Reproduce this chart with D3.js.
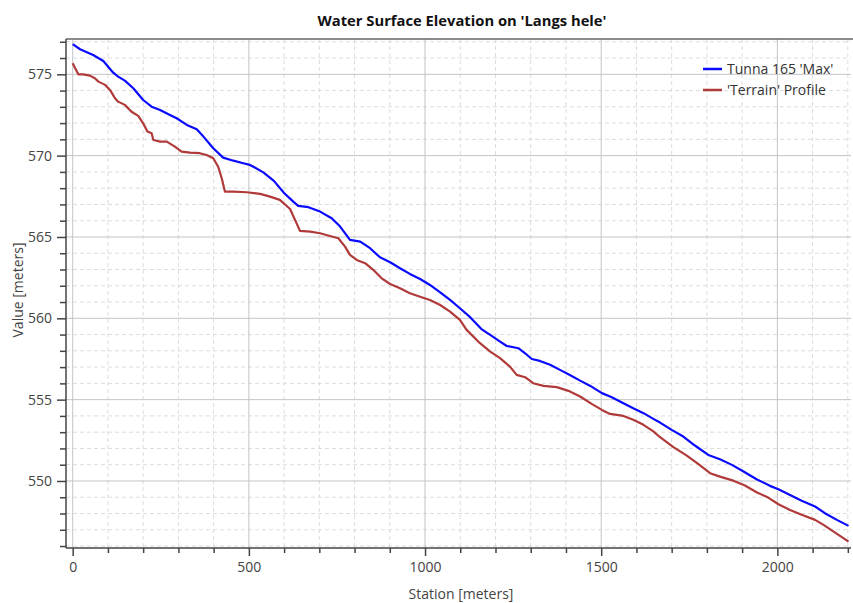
<!DOCTYPE html>
<html>
<head>
<meta charset="utf-8">
<script src="https://cdn.jsdelivr.net/npm/d3@7/dist/d3.min.js"></script>
<style>
  html, body { margin: 0; padding: 0; background: #fff; }
  svg { display: block; font-family: "Open Sans", "Noto Sans", sans-serif; }
</style>
</head>
<body>
<svg id="chart" width="853" height="603"></svg>
<script>
// ---------- Data ----------
const chartTitle = "Water Surface Elevation on 'Langs hele'";
const xAxisTitle = "Station [meters]";
const yAxisTitle = "Value [meters]";
const seriesNames = ["Tunna 165 'Max'", "'Terrain' Profile"];

const wsStations = [0,21,58,87,115,129,148,172,200,224,248,276,295,324,352,371,399,427,456,484,503,513,541,571,600,626,640,669,702,735,759,787,816,844,872,901,929,957,986,1014,1043,1071,1099,1128,1160,1185,1213,1232,1265,1284,1303,1326,1355,1383,1411,1440,1468,1502,1530,1563,1591,1620,1648,1667,1700,1733,1766,1804,1837,1871,1904,1941,1979,2003,2036,2069,2107,2135,2169,2202];
const wsValues = [576.85,576.54,576.19,575.82,575.10,574.86,574.61,574.14,573.42,573.01,572.81,572.50,572.30,571.89,571.62,571.17,570.45,569.88,569.69,569.53,569.43,569.32,568.97,568.45,567.70,567.17,566.91,566.83,566.56,566.15,565.64,564.82,564.71,564.31,563.75,563.45,563.08,562.73,562.42,562.05,561.60,561.13,560.62,560.07,559.34,558.98,558.57,558.30,558.16,557.85,557.50,557.38,557.14,556.83,556.52,556.17,555.86,555.40,555.15,554.78,554.47,554.17,553.82,553.59,553.14,552.73,552.18,551.60,551.34,550.99,550.58,550.11,549.70,549.49,549.14,548.78,548.43,548.02,547.61,547.24];

const terrainStations = [0,7,16,30,49,63,73,92,106,120,129,148,167,186,200,212,224,229,248,267,290,309,333,361,380,399,413,423,432,456,494,532,560,588,617,631,645,674,702,730,754,773,787,806,830,853,877,901,929,957,986,1014,1043,1071,1099,1118,1156,1185,1213,1241,1260,1284,1307,1336,1374,1407,1440,1473,1502,1525,1563,1591,1620,1648,1667,1705,1743,1776,1809,1837,1875,1908,1941,1974,2003,2036,2069,2107,2131,2164,2202];
const terrainValues = [575.68,575.37,575.00,575.00,574.92,574.76,574.55,574.35,574.04,573.53,573.32,573.12,572.70,572.44,571.99,571.48,571.38,570.96,570.86,570.86,570.55,570.25,570.18,570.15,570.04,569.84,569.32,568.61,567.79,567.79,567.75,567.65,567.48,567.28,566.72,566.05,565.38,565.33,565.23,565.06,564.92,564.41,563.90,563.59,563.39,562.98,562.46,562.11,561.85,561.54,561.33,561.13,560.82,560.41,559.90,559.29,558.47,557.95,557.55,557.03,556.52,556.38,556.01,555.85,555.77,555.54,555.19,554.74,554.37,554.12,554.00,553.76,553.45,553.05,552.69,552.08,551.56,551.03,550.48,550.27,550.02,549.72,549.31,548.98,548.57,548.22,547.92,547.61,547.30,546.83,546.27];

const xMajorTicks = [0, 500, 1000, 1500, 2000];
const xMinorTicks = [100,200,300,400,600,700,800,900,1100,1200,1300,1400,1600,1700,1800,1900,2100,2200];
const yMajorTicks = [550, 555, 560, 565, 570, 575];
const yMinorTicks = [546,547,548,549,551,552,553,554,556,557,558,559,561,562,563,564,566,567,568,569,571,572,573,574,576,577];

// ---------- Layout ----------
const svg = d3.select("#chart");
const L = 66, R = 851, T = 39, B = 548;
const x = d3.scaleLinear().domain([-19, 2209]).range([L, R]);
const y = d3.scaleLinear().domain([545.88, 577.17]).range([B, T]);

// grid
const grid = svg.append("g");
grid.selectAll(".vmin").data(xMinorTicks).join("line")
  .attr("x1", d => x(d)).attr("x2", d => x(d)).attr("y1", T).attr("y2", B)
  .attr("stroke", "#dcdcdc").attr("stroke-dasharray", "4,3").attr("stroke-width", 1);
grid.selectAll(".hmin").data(yMinorTicks).join("line")
  .attr("x1", L).attr("x2", R).attr("y1", d => y(d)).attr("y2", d => y(d))
  .attr("stroke", "#dcdcdc").attr("stroke-dasharray", "4,3").attr("stroke-width", 1);
grid.selectAll(".vmaj").data(xMajorTicks).join("line")
  .attr("x1", d => x(d)).attr("x2", d => x(d)).attr("y1", T).attr("y2", B)
  .attr("stroke", "#c4c4c4").attr("stroke-width", 1);
grid.selectAll(".hmaj").data(yMajorTicks).join("line")
  .attr("x1", L).attr("x2", R).attr("y1", d => y(d)).attr("y2", d => y(d))
  .attr("stroke", "#c4c4c4").attr("stroke-width", 1);

// top frame line
svg.append("line").attr("x1", L).attr("x2", 853).attr("y1", T).attr("y2", T)
  .attr("stroke", "#666").attr("stroke-width", 1.5);

// axes
const fmt = d3.format("d");
const xAxisMaj = svg.append("g").attr("transform", `translate(0,${B})`)
  .call(d3.axisBottom(x).tickValues(xMajorTicks).tickFormat(fmt).tickSize(8).tickPadding(6).tickSizeOuter(0));
const xAxisMin = svg.append("g").attr("transform", `translate(0,${B})`)
  .call(d3.axisBottom(x).tickValues(xMinorTicks).tickFormat("").tickSize(5).tickSizeOuter(0));
const yAxisMaj = svg.append("g").attr("transform", `translate(${L},0)`)
  .call(d3.axisLeft(y).tickValues(yMajorTicks).tickFormat(fmt).tickSize(9).tickPadding(5).tickSizeOuter(0));
const yAxisMin = svg.append("g").attr("transform", `translate(${L},0)`)
  .call(d3.axisLeft(y).tickValues(yMinorTicks).tickFormat("").tickSize(6).tickSizeOuter(0));

[xAxisMaj, xAxisMin, yAxisMaj, yAxisMin].forEach(g => {
  g.selectAll(".domain").attr("stroke", "#444").attr("stroke-width", 1.5);
  g.selectAll(".tick line").attr("stroke", "#444").attr("stroke-width", 1.5);
  g.selectAll(".tick text").attr("fill", "#444").style("font-size", "14px")
    .style("font-family", "'Open Sans', sans-serif");
});
// extend axis lines fully across plot
xAxisMaj.select(".domain").attr("d", `M${L},0H${R}`);
yAxisMaj.select(".domain").attr("d", `M0,${T}V${B}`);
xAxisMin.select(".domain").remove();
yAxisMin.select(".domain").remove();

// lines
const lineGen = d3.line().x(d => x(d[0])).y(d => y(d[1]));
const wsData = wsStations.map((s, i) => [s, wsValues[i]]);
const terrainData = terrainStations.map((s, i) => [s, terrainValues[i]]);
const colors = ["#0a0aff", "#b03a3a"];

svg.append("path").datum(terrainData).attr("d", lineGen)
  .attr("fill", "none").attr("stroke", colors[1]).attr("stroke-width", 2.2).attr("stroke-linejoin", "round");
svg.append("path").datum(wsData).attr("d", lineGen)
  .attr("fill", "none").attr("stroke", colors[0]).attr("stroke-width", 2.2).attr("stroke-linejoin", "round");

// title
svg.append("text").attr("x", 462).attr("y", 26).attr("text-anchor", "middle")
  .style("font-size", "13.5px").style("font-weight", "bold").attr("fill", "#111")
  .attr("textLength", 289).attr("lengthAdjust", "spacingAndGlyphs")
  .text(chartTitle);

// axis titles
svg.append("text").attr("x", 461).attr("y", 599).attr("text-anchor", "middle")
  .style("font-size", "14px").attr("fill", "#444").text(xAxisTitle);
svg.append("text").attr("transform", "translate(23,290) rotate(-90)").attr("text-anchor", "middle")
  .style("font-size", "14px").attr("fill", "#444").text(yAxisTitle);

// legend
const legend = svg.append("g");
seriesNames.forEach((name, i) => {
  const ly = 69 + i * 21;
  legend.append("line").attr("x1", 703).attr("x2", 722).attr("y1", ly).attr("y2", ly)
    .attr("stroke", colors[i]).attr("stroke-width", 2.5);
  legend.append("text").attr("x", 727).attr("y", ly + 5)
    .style("font-size", "14px").attr("fill", "#333").text(name);
});
</script>
</body>
</html>
